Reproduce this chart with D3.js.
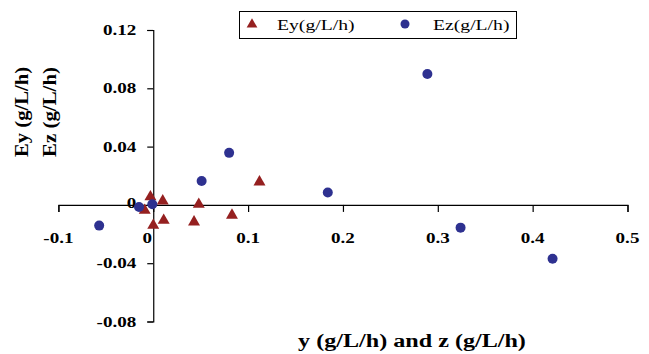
<!DOCTYPE html>
<html><head><meta charset="utf-8">
<script src="https://cdn.jsdelivr.net/npm/d3@7"></script>
<style>body{margin:0;background:#fff}svg{display:block}</style>
</head><body>
<script>
const eyX = [-0.003, 0.010, -0.009, 0.000, 0.011, 0.048, 0.043, 0.083, 0.112];
const eyY = [0.0055, 0.0027, -0.0037, -0.0140, -0.0106, 0.0004, -0.0117, -0.0071, 0.0157];
const ezX = [-0.057, -0.015, -0.001, 0.051, 0.080, 0.184, 0.289, 0.324, 0.421];
const ezY = [-0.0142, -0.0014, 0.0004, 0.0164, 0.0357, 0.0085, 0.0898, -0.0156, -0.0369];
const xTicks = [-0.1, 0, 0.1, 0.2, 0.3, 0.4, 0.5];
const yTicks = [-0.08, -0.04, 0, 0.04, 0.08, 0.12];
const seriesNames = ["Ey(g/L/h)", "Ez(g/L/h)"];
const xTitle = "y (g/L/h) and z (g/L/h)";
const yTitles = ["Ey (g/L/h)", "Ez (g/L/h)"];

const W = 649, H = 354;
const red = "#952020", blue = "#2e3190";
const SX = 1.27;
const svg = d3.select("body").append("svg").attr("width", W).attr("height", H);
const x = d3.scaleLinear().domain([-0.1, 0.5]).range([58.4, 627.5]);
const y = d3.scaleLinear().domain([-0.08, 0.12]).range([321.5, 30]);
const serif = "'Liberation Serif','Times New Roman',serif";

function stext(g, tx, ty, str, size, weight, anchor) {
  return g.append("text").attr("transform", `translate(${tx},${ty}) scale(${SX},1)`)
    .attr("font-family", serif).attr("font-size", size).attr("font-weight", weight)
    .attr("text-anchor", anchor || "start").attr("fill", "#000").text(str);
}

// axes
const xAxis = svg.append("g").attr("transform", `translate(0,${y(0)})`)
  .call(d3.axisBottom(x).tickValues(xTicks).tickSize(7).tickFormat(""));
const yAxis = svg.append("g").attr("transform", `translate(${x(0)},0)`)
  .call(d3.axisLeft(y).tickValues(yTicks).tickSize(6).tickFormat(""));
[xAxis, yAxis].forEach(a => {
  a.select(".domain").attr("stroke", "#000").attr("stroke-width", 1.2);
  a.selectAll(".tick line").attr("stroke", "#000").attr("stroke-width", 1.2);
});
const fmt = v => v === 0 ? "0" : String(+v.toFixed(2));
xTicks.forEach(v => {
  stext(svg, x(v) + (v === 0 ? -6 : 0), y(0) + 38, fmt(v), 15, "bold", "middle");
});
yTicks.forEach(v => {
  stext(svg, x(0) - 17, y(v) + 5 + (v === 0 ? -2 : 0), fmt(v), 15, "bold", "end");
});

// titles
stext(svg, 412, 347, xTitle, 19, "bold", "middle");
[28, 56].forEach((bx, i) => {
  svg.append("text").attr("transform", `translate(${bx},112) rotate(-90)`)
    .attr("font-family", serif).attr("font-size", 18).attr("font-weight", "bold")
    .attr("text-anchor", "middle").attr("textLength", 90).attr("lengthAdjust", "spacingAndGlyphs")
    .text(yTitles[i]);
});

// points
const tri = d3.symbol().type(d3.symbolTriangle).size(62);
svg.append("g").selectAll("path").data(eyX.map((v, i) => [v, eyY[i]])).join("path")
  .attr("d", tri).attr("fill", red)
  .attr("transform", d => `translate(${x(d[0])},${y(d[1])})`);
svg.append("g").selectAll("circle").data(ezX.map((v, i) => [v, ezY[i]])).join("circle")
  .attr("cx", d => x(d[0])).attr("cy", d => y(d[1])).attr("r", 5).attr("fill", blue);

// legend
const lg = svg.append("g");
lg.append("rect").attr("x", 239.5).attr("y", 11.5).attr("width", 277).attr("height", 27)
  .attr("fill", "#fff").attr("stroke", "#000").attr("stroke-width", 1);
lg.append("path").attr("d", d3.symbol().type(d3.symbolTriangle).size(50)()).attr("fill", red)
  .attr("transform", "translate(252,24.5)");
lg.append("circle").attr("cx", 405).attr("cy", 24).attr("r", 4.5).attr("fill", blue);
stext(lg, 277, 30, seriesNames[0], 15.5, "normal", "start");
stext(lg, 433, 30, seriesNames[1], 15.5, "normal", "start");
</script>
</body></html>
